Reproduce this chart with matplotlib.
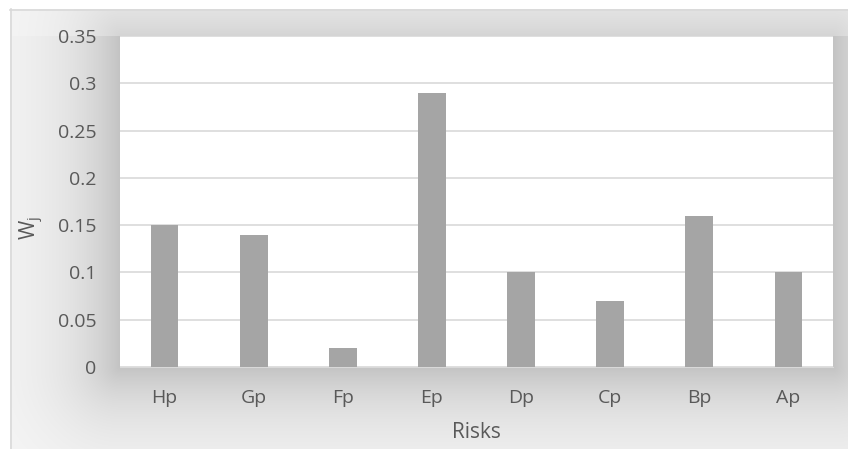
import numpy as np
import matplotlib
matplotlib.use("Agg")
import matplotlib.pyplot as plt

categories = ["Hp", "Gp", "Fp", "Ep", "Dp", "Cp", "Bp", "Ap"]
weights = [0.15, 0.14, 0.02, 0.29, 0.10, 0.07, 0.16, 0.10]
yticks = [0, 0.05, 0.1, 0.15, 0.2, 0.25, 0.3, 0.35]
ytick_labels = ["0", "0.05", "0.1", "0.15", "0.2", "0.25", "0.3", "0.35"]

plt.rcParams["font.family"] = ["Open Sans", "DejaVu Sans"]

W, H = 848, 449
fig = plt.figure(figsize=(W / 100, H / 100), dpi=100)
fig.patch.set_facecolor("white")

# plot area in pixels
px0, px1 = 120, 833
py0, py1 = 36, 367

# soft shadowed chart-area background
bg = fig.add_axes([0, 0, 1, 1], zorder=0)
bg.set_axis_off()
xx, yy = np.meshgrid(np.arange(W) + 0.5, np.arange(H) + 0.5)
dx = np.maximum(np.maximum(px0 - xx, xx - px1), 0)
dy_top = np.maximum(py0 - yy, 0)
dy_bot = np.maximum(yy - py1, 0)
dy = np.maximum(dy_top, dy_bot)
d = np.hypot(dx, dy)
amp = np.where(dy_top > 0, 0.14, 0.21)
shade = 0.975 - amp * np.exp(-d / 55.0)
shade = np.where((xx < 10) | (yy < 9), 1.0, shade)
img = np.dstack([shade] * 3)
bg.imshow(img, extent=[0, W, H, 0], aspect="auto", interpolation="bilinear")
bg.set_xlim(0, W)
bg.set_ylim(H, 0)
bg.plot([10.5, 10.5], [9, H], color="#d9d9d9", lw=1.2)
bg.plot([10, W], [9.5, 9.5], color="#d9d9d9", lw=1.2)

ax = fig.add_axes([px0 / W, 1 - py1 / H, (px1 - px0) / W, (py1 - py0) / H], zorder=1)
ax.set_facecolor("white")
x = np.arange(len(categories))
ax.bar(x, weights, width=0.31, color="#a5a5a5", zorder=3)
ax.set_xlim(-0.5, len(categories) - 0.5)
ax.set_ylim(0, 0.35)
ax.set_yticks(yticks)
ax.set_yticklabels(ytick_labels)
ax.set_xticks(x)
ax.set_xticklabels(categories)
ax.yaxis.grid(True, color="#d9d9d9", lw=1.2, zorder=0)
ax.set_axisbelow(True)
for s in ["top", "right", "left"]:
    ax.spines[s].set_visible(False)
ax.spines["bottom"].set_color("#d9d9d9")
ax.tick_params(axis="both", length=0, colors="#595959", labelsize=14)
ax.tick_params(axis="y", pad=17)
ax.tick_params(axis="x", pad=16)
ax.set_xlabel("Risks", color="#595959", fontsize=15, labelpad=11)
ax.set_ylabel("W$_\\mathregular{j}$", color="#595959", fontsize=15)
ax.yaxis.set_label_coords(-0.104, 0.42)

fig.savefig("out.png", dpi=100)
